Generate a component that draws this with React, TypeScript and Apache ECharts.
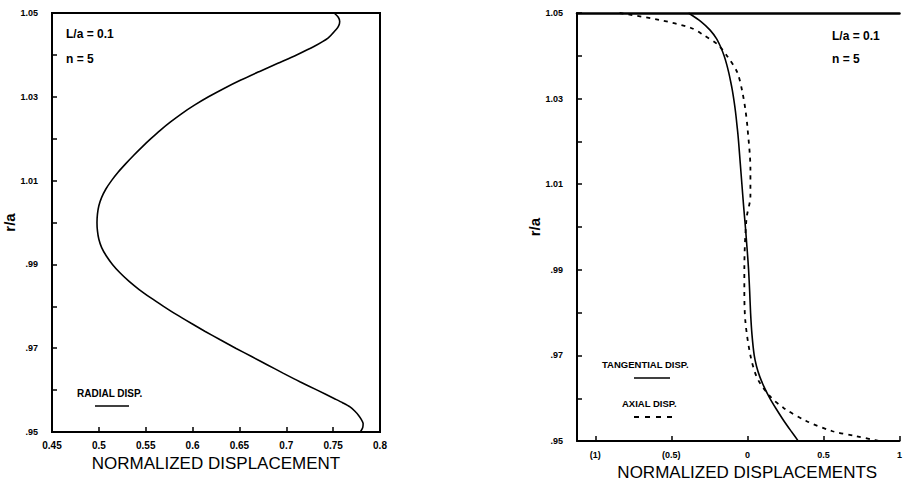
import React, { useEffect, useRef } from "react";
import * as echarts from "echarts";

// Left panel: radial displacement vs r/a (top to bottom)
const radialR = [1.050, 1.049, 1.048, 1.047, 1.046, 1.044, 1.042, 1.040, 1.038, 1.036, 1.034, 1.032, 1.030, 1.028, 1.026, 1.024, 1.022, 1.020, 1.018, 1.016, 1.014, 1.012, 1.010, 1.008, 1.006, 1.004, 1.002, 1.000, 0.998, 0.996, 0.994, 0.992, 0.990, 0.988, 0.986, 0.984, 0.982, 0.980, 0.978, 0.976, 0.974, 0.972, 0.970, 0.968, 0.966, 0.964, 0.962, 0.960, 0.958, 0.957, 0.956, 0.955, 0.954, 0.953, 0.952, 0.951, 0.950];
const radialDisp = [0.751, 0.7555, 0.757, 0.756, 0.753, 0.7445, 0.7295, 0.711, 0.691, 0.671, 0.6515, 0.6335, 0.617, 0.602, 0.5885, 0.5765, 0.5655, 0.5555, 0.546, 0.537, 0.5285, 0.5205, 0.5135, 0.5075, 0.503, 0.500, 0.4985, 0.498, 0.4985, 0.500, 0.503, 0.508, 0.5145, 0.5225, 0.532, 0.543, 0.5555, 0.569, 0.583, 0.598, 0.6135, 0.6295, 0.646, 0.663, 0.680, 0.697, 0.7145, 0.733, 0.751, 0.760, 0.768, 0.773, 0.777, 0.780, 0.782, 0.7815, 0.779];

// Right panel: tangential (solid) displacement vs r/a
const tangR = [1.050, 1.048, 1.046, 1.044, 1.042, 1.040, 1.038, 1.036, 1.034, 1.032, 1.030, 1.028, 1.026, 1.024, 1.022, 1.020, 1.015, 1.010, 1.005, 1.000, 0.995, 0.990, 0.985, 0.980, 0.975, 0.970, 0.9675, 0.965, 0.9625, 0.960, 0.9575, 0.955, 0.9525, 0.950];
const tangDisp = [-0.387, -0.305, -0.245, -0.203, -0.175, -0.153, -0.136, -0.122, -0.110, -0.099, -0.090, -0.082, -0.075, -0.069, -0.063, -0.058, -0.047, -0.036, -0.025, -0.013, -0.002, 0.008, 0.015, 0.021, 0.030, 0.045, 0.060, 0.082, 0.112, 0.148, 0.19, 0.235, 0.284, 0.335];

// Right panel: axial (dashed) displacement vs r/a
const axialR = [1.050, 1.0484, 1.0465, 1.0449, 1.0426, 1.0398, 1.036, 1.0314, 1.0274, 1.0235, 1.0135, 1.0072, 1.0019, 0.9902, 0.9849, 0.9779, 0.970, 0.9647, 0.9605, 0.9577, 0.9547, 0.9523, 0.9512, 0.9502, 0.950];
const axialDisp = [-0.84, -0.58, -0.37, -0.29, -0.194, -0.13, -0.065, -0.032, -0.013, 0.0, 0.02, 0.02, -0.006, -0.02, -0.02, -0.013, 0.02, 0.065, 0.148, 0.24, 0.387, 0.56, 0.71, 0.84, 0.87];

const leftXTicks = [0.45, 0.5, 0.55, 0.6, 0.65, 0.7, 0.75, 0.8];
const rightXTicks = [-1, -0.5, 0, 0.5, 1];

const FONT = "Liberation Sans";

const pairs = (xs: number[], ys: number[]) => xs.map((x, i) => [x, ys[i]]);

const yLabel = (v: number) => {
  const k = Math.round(v * 100);
  if (k % 2 === 0) return "";
  const s = (k / 100).toFixed(2);
  return v < 1 ? s.slice(1) : s;
};

export default function App() {
  const ref = useRef<HTMLDivElement>(null);
  useEffect(() => {
    if (!ref.current) return;
    const chart = echarts.init(ref.current, null, { renderer: "svg" });
    const axisLineStyle = { color: "#000", width: 2 };
    const tickLabel = { color: "#000", fontFamily: FONT, fontWeight: "bold" as const, fontSize: 9 };
    const yAxisBase = (gridIndex: number, margin: number, nameGap: number) => ({
      type: "value" as const,
      gridIndex,
      min: 0.95,
      max: 1.05,
      interval: 0.01,
      name: "r/a",
      nameLocation: "middle" as const,
      nameGap,
      nameTextStyle: { color: "#000", fontFamily: FONT, fontWeight: "bold" as const, fontSize: 15 },
      axisLine: { show: true, onZero: false, lineStyle: axisLineStyle },
      axisTick: { show: true, inside: true, length: 5, lineStyle: { color: "#000", width: 1.5 } },
      axisLabel: { ...tickLabel, margin, formatter: yLabel, showMinLabel: true, showMaxLabel: true },
      splitLine: { show: false },
    });
    chart.setOption({
      animation: false,
      backgroundColor: "#fff",
      grid: [
        { left: 52, top: 13, width: 328, height: 419, show: true, borderColor: "#000", borderWidth: 2, backgroundColor: "transparent" },
        { left: 577, top: 13, width: 328, height: 430 },
      ],
      xAxis: [
        {
          type: "value",
          gridIndex: 0,
          min: 0.45,
          max: 0.8,
          name: "NORMALIZED DISPLACEMENT",
          nameLocation: "middle",
          nameGap: 22,
          nameTextStyle: { color: "#000", fontFamily: FONT, fontSize: 17 },
          axisLine: { show: true, onZero: false, lineStyle: axisLineStyle },
          axisTick: { show: true, inside: true, length: 5, customValues: leftXTicks, lineStyle: { color: "#000", width: 1.5 } },
          axisLabel: { ...tickLabel, fontSize: 10, margin: 8, customValues: leftXTicks },
          splitLine: { show: false },
        },
        {
          type: "value",
          gridIndex: 1,
          min: -1.12,
          max: 1,
          name: "NORMALIZED DISPLACEMENTS",
          nameLocation: "middle",
          nameGap: 22,
          nameTextStyle: { color: "#000", fontFamily: FONT, fontSize: 17, padding: [0, 0, 0, 18] },
          axisLine: { show: true, onZero: false, lineStyle: axisLineStyle },
          axisTick: { show: true, inside: true, length: 5, customValues: rightXTicks, lineStyle: { color: "#000", width: 1.5 } },
          axisLabel: {
            ...tickLabel,
            margin: 9,
            customValues: rightXTicks,
            formatter: (v: number) => (v < 0 ? `(${Math.abs(v)})` : String(v)),
          },
          splitLine: { show: false },
        },
        {
          type: "value",
          gridIndex: 1,
          position: "top",
          min: -1.12,
          max: 1,
          axisLine: { show: true, onZero: false, lineStyle: { color: "#000", width: 2.5 } },
          axisTick: { show: false },
          axisLabel: { show: false },
          splitLine: { show: false },
        },
      ],
      yAxis: [yAxisBase(0, 14, 27), yAxisBase(1, 14, 30)],
      series: [
        {
          name: "RADIAL DISP.",
          type: "line",
          xAxisIndex: 0,
          yAxisIndex: 0,
          data: pairs(radialDisp, radialR),
          smooth: 0.25,
          showSymbol: false,
          lineStyle: { color: "#000", width: 1.6 },
        },
        {
          name: "TANGENTIAL DISP.",
          type: "line",
          xAxisIndex: 1,
          yAxisIndex: 1,
          data: pairs(tangDisp, tangR),
          smooth: 0.25,
          showSymbol: false,
          lineStyle: { color: "#000", width: 1.6 },
        },
        {
          name: "AXIAL DISP.",
          type: "line",
          xAxisIndex: 1,
          yAxisIndex: 1,
          data: pairs(axialDisp, axialR),
          smooth: 0.3,
          showSymbol: false,
          lineStyle: { color: "#000", width: 1.8, type: [4, 5] },
        },
      ],
      graphic: [
        { type: "text", left: 66, top: 28, style: { text: "L/a = 0.1", fill: "#000", font: `bold 12px "${FONT}"` } },
        { type: "text", left: 66, top: 53, style: { text: "n = 5", fill: "#000", font: `bold 12px "${FONT}"` } },
        { type: "text", left: 832, top: 30, style: { text: "L/a = 0.1", fill: "#000", font: `bold 12px "${FONT}"` } },
        { type: "text", left: 832, top: 53, style: { text: "n = 5", fill: "#000", font: `bold 12px "${FONT}"` } },
        { type: "text", left: 77, top: 388, style: { text: "RADIAL DISP.", fill: "#000", font: `bold 10px "${FONT}"` } },
        { type: "line", shape: { x1: 95, y1: 406, x2: 129, y2: 406 }, style: { stroke: "#000", lineWidth: 1.6 } },
        { type: "text", left: 602, top: 359, style: { text: "TANGENTIAL DISP.", fill: "#000", font: `bold 9.5px "${FONT}"` } },
        { type: "line", shape: { x1: 634, y1: 378, x2: 670, y2: 378 }, style: { stroke: "#000", lineWidth: 1.6 } },
        { type: "text", left: 622, top: 398, style: { text: "AXIAL DISP.", fill: "#000", font: `bold 9.5px "${FONT}"` } },
        { type: "line", shape: { x1: 634, y1: 417, x2: 672, y2: 417 }, style: { stroke: "#000", lineWidth: 1.8, lineDash: [5, 6] } },
      ],
    });
    return () => chart.dispose();
  }, []);
  return <div ref={ref} style={{ position: "absolute", left: 0, top: 0, width: 905, height: 486 }} />;
}
